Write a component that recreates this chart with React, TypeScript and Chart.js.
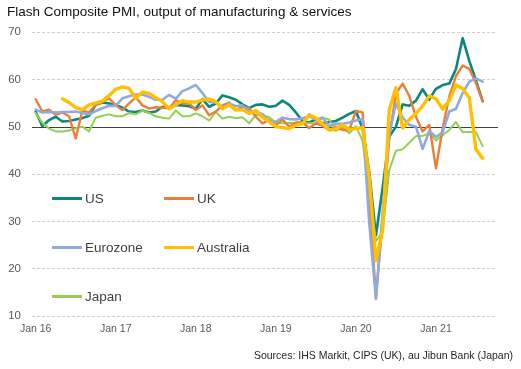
import React, { useEffect, useRef } from "react";
import { Chart, registerables } from "chart.js";

Chart.register(...registerables);

// Months are indexed from Jan 2016 (0) to Aug 2021 (67)
const xTickMonths = [0, 12, 24, 36, 48, 60];
const xTickLabels = ["Jan 16", "Jan 17", "Jan 18", "Jan 19", "Jan 20", "Jan 21"];
const yMin = 10;
const yMax = 70;
const yStep = 10;
const refValue = 50;

const us = [
  53.2, 50.1, 51.4, 52.1, 51.1, 51.2, 51.5, 51.8, 52.3, 54.6, 55.1, 54.9,
  54.6, 54.0, 53.2, 53.1, 53.4, 53.0, 53.2, 54.2, 54.0, 54.6, 54.5, 54.3,
  53.8, 55.8, 54.2, 54.9, 56.6, 56.2, 55.7, 54.7, 53.9, 54.6, 54.7, 54.2,
  54.4, 55.5, 54.6, 53.0, 51.2, 50.9, 51.5, 50.7, 51.0, 51.2, 51.9, 52.7,
  53.3, 49.6, 40.5, 27.0, 37.0, 47.9, 50.0, 54.7, 54.4, 55.5, 57.9, 55.7,
  58.0, 58.8, 59.1, 62.2, 68.7, 63.9, 59.7, 55.4,
];
const uk = [
  55.8, 53.2, 53.6, 52.5, 53.0, 52.2, 47.5, 53.4, 53.0, 54.6, 55.2, 56.0,
  54.5, 53.5, 54.9, 56.2, 54.5, 53.8, 54.1, 54.0, 53.9, 55.6, 54.9, 54.9,
  53.5, 54.5, 52.4, 53.2, 54.5, 55.1, 53.5, 54.2, 53.9, 52.1, 50.7, 51.4,
  50.3, 51.5, 50.0, 50.9, 50.9, 49.7, 50.7, 50.2, 49.3, 50.0, 49.3, 49.3,
  53.3, 53.0, 36.0, 13.8, 30.0, 47.7, 57.0, 59.1, 56.5, 52.1, 49.0, 50.4,
  41.2, 49.6, 56.4, 60.7, 62.9, 62.2, 59.2, 55.3,
];
const eurozone = [
  53.6, 53.0, 53.1, 53.0, 53.1, 53.1, 53.2, 52.9, 52.6, 53.3, 53.9, 54.4,
  54.4, 56.0, 56.4, 56.8, 56.8, 56.3, 55.7, 55.7, 56.7, 55.9, 57.5, 58.1,
  58.8, 57.1, 55.2, 55.1, 54.1, 54.9, 54.3, 54.5, 53.2, 53.1, 52.7, 51.1,
  51.0, 51.9, 51.6, 51.5, 51.8, 52.2, 51.5, 51.9, 50.1, 50.6, 50.6, 50.9,
  51.3, 51.6, 29.7, 13.6, 31.9, 48.5, 54.9, 51.9, 50.4, 50.0, 45.3, 49.1,
  47.8, 48.8, 53.2, 53.8, 57.1, 59.5, 60.2, 59.5,
];
const australia = [
  null, null, null, null, 55.9, 55.1, 54.0, 53.6, 54.6, 55.0, 55.4, 56.6,
  57.9, 58.4, 58.1, 56.0, 57.3, 57.0, 56.1, 55.3, 53.8, 54.6, 55.5, 55.2,
  55.2, 55.6, 55.8, 55.3, 53.8, 54.6, 53.5, 53.6, 52.8, 53.4, 52.0, 51.0,
  50.0, 49.8, 49.6, 50.3, 50.6, 52.5, 51.8, 50.6, 49.3, 49.5, 50.4, 49.4,
  49.6, 49.8, 39.4, 21.7, 28.1, 53.6, 58.2, 49.7, 51.5, 52.8, 54.4, 56.5,
  55.9, 53.7, 55.5, 58.8, 58.0, 56.1, 45.2, 43.3,
];
const japan = [
  52.9, 50.8, 49.6, 49.0, 49.0, 49.2, 49.7, 50.0, 49.0, 51.9, 52.3, 52.6,
  52.2, 52.2, 52.9, 52.6, 53.4, 52.9, 52.2, 51.9, 51.7, 53.4, 52.2, 52.2,
  52.8, 52.2, 51.3, 53.1, 51.7, 52.1, 51.8, 52.0, 50.7, 52.5, 52.4, 52.0,
  50.9, 50.7, 50.8, 50.8, 50.7, 50.8, 50.6, 51.9, 51.5, 49.1, 49.8, 48.6,
  50.1, 47.0, 36.2, 25.8, 27.8, 40.8, 44.9, 45.2, 46.6, 48.0, 48.1, 48.5,
  47.1, 48.2, 49.3, 51.0, 48.8, 48.9, 48.8, 45.9,
];

const seriesNames = ["US", "UK", "Eurozone", "Australia", "Japan"];
const seriesValues = [us, uk, eurozone, australia, japan];
const seriesColors = ["#0B877C", "#EA7E3A", "#8FAADC", "#FFC000", "#92D050"];
const seriesWidths = [2.6, 2.4, 2.6, 3.4, 2];
const seriesOrder = [5, 3, 2, 1, 4];

const FONT = "'Liberation Sans', Arial, Helvetica, sans-serif";

const refLinePlugin = {
  id: "refLine",
  beforeDatasetsDraw(chart: any) {
    const { ctx, chartArea, scales } = chart;
    const y = Math.round(scales.y.getPixelForValue(refValue)) + 0.5;
    ctx.save();
    ctx.strokeStyle = "#404040";
    ctx.lineWidth = 1.2;
    ctx.beginPath();
    ctx.moveTo(chartArea.left, y);
    ctx.lineTo(chartArea.right + 2, y);
    ctx.stroke();
    ctx.restore();
  },
};

function Legend() {
  const items = [
    { i: 0, left: 52, top: 198 },
    { i: 1, left: 164, top: 198 },
    { i: 2, left: 52, top: 247 },
    { i: 3, left: 164, top: 247 },
    { i: 4, left: 52, top: 296 },
  ];
  return (
    <>
      {items.map((it) => (
        <div
          key={it.i}
          style={{
            position: "absolute",
            left: it.left,
            top: it.top - 10,
            height: 20,
            display: "flex",
            alignItems: "center",
            fontFamily: FONT,
            fontSize: 13.5,
            color: "#404040",
            whiteSpace: "nowrap",
          }}
        >
          <span
            style={{
              display: "inline-block",
              width: 30,
              height: 3,
              background: seriesColors[it.i],
              marginRight: 3,
            }}
          />
          <span>{seriesNames[it.i]}</span>
        </div>
      ))}
    </>
  );
}

export default function App() {
  const canvasRef = useRef<HTMLCanvasElement | null>(null);

  useEffect(() => {
    if (!canvasRef.current) return;
    const datasets = seriesValues.map((vals, k) => ({
      label: seriesNames[k],
      data: vals.map((v, i) => ({ x: i, y: v })),
      borderColor: seriesColors[k],
      backgroundColor: seriesColors[k],
      borderWidth: seriesWidths[k],
      pointRadius: 0,
      tension: 0,
      spanGaps: false,
      order: seriesOrder[k],
      borderJoinStyle: "round" as const,
      borderCapStyle: "round" as const,
    }));

    const chart = new Chart(canvasRef.current, {
      type: "line",
      data: { datasets },
      plugins: [refLinePlugin],
      options: {
        animation: false,
        responsive: false,
        maintainAspectRatio: false,
        layout: { padding: { left: 0, right: 25, top: 32, bottom: 33 } },
        plugins: {
          legend: { display: false },
          tooltip: { enabled: false },
          title: { display: false },
        },
        scales: {
          x: {
            type: "linear",
            min: -0.55,
            max: 69,
            afterBuildTicks: (s: any) => {
              s.ticks = xTickMonths.map((v) => ({ value: v }));
            },
            afterFit: (s: any) => {
              s.height = 20;
            },
            ticks: {
              autoSkip: false,
              maxRotation: 0,
              padding: 7,
              color: "#595959",
              font: { family: FONT, size: 10.5 },
              callback: (_v: any, idx: number) => xTickLabels[idx],
            },
            grid: { display: false, drawTicks: false },
            border: { display: false },
          },
          y: {
            type: "linear",
            min: yMin,
            max: yMax,
            afterFit: (s: any) => {
              s.width = 32;
            },
            ticks: {
              stepSize: yStep,
              padding: 11,
              color: "#595959",
              font: { family: FONT, size: 11.5 },
            },
            grid: {
              drawTicks: false,
              color: (c: any) => (c.tick && c.tick.value === refValue ? "rgba(0,0,0,0)" : "#d0d0d0"),
              lineWidth: 1,
            },
            border: { display: false, dash: [3, 2] },
          },
        },
      },
    });
    return () => chart.destroy();
  }, []);

  return (
    <div style={{ position: "absolute", left: 0, top: 0, width: 521, height: 369, background: "#fff" }}>
      <canvas ref={canvasRef} width={521} height={369} style={{ width: 521, height: 369, display: "block" }} />
      <div
        style={{
          position: "absolute",
          left: 7,
          top: 4,
          fontFamily: FONT,
          fontSize: 13.5,
          lineHeight: "15px",
          color: "#111",
          whiteSpace: "nowrap",
        }}
      >
        Flash Composite PMI, output of manufacturing &amp; services
      </div>
      <Legend />
      <div
        style={{
          position: "absolute",
          right: 8,
          top: 349,
          fontFamily: FONT,
          fontSize: 10.5,
          lineHeight: "12px",
          color: "#262626",
          whiteSpace: "nowrap",
        }}
      >
        Sources: IHS Markit, CIPS (UK), au Jibun Bank (Japan)
      </div>
    </div>
  );
}
